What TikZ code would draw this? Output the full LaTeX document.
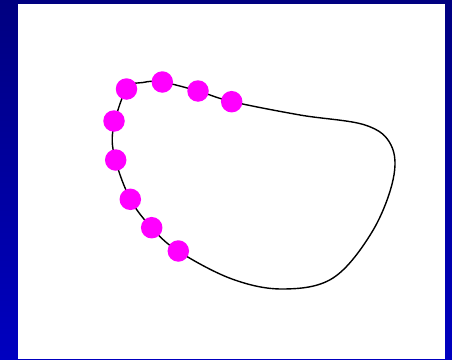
\documentclass[tikz,border=0pt]{standalone}
\begin{document}
\begin{tikzpicture}[x=1pt,y=-1pt,
  dot/.style={circle,fill=magentadot,inner sep=0pt,minimum size=21.5pt}]
\definecolor{navytop}{HTML}{000080}
\definecolor{bluebot}{HTML}{0000C0}
\definecolor{magentadot}{HTML}{FF00FF}
\useasboundingbox (0,0) rectangle (452,359);
\shade[top color=navytop,bottom color=bluebot] (0,0) rectangle (452,359);
\fill[white] (17.5,3.5) rectangle (445.3,359);
\draw[line width=1.4pt] plot[smooth cycle,tension=0.6] coordinates {
  (143,82.5) (162,82) (198,91) (231.5,101.5) (300,115)
  (365,125) (391,145) (393,180) (372,232)
  (333,278) (283,289) (232,279) (178,251)
  (151.5,227.5) (130.5,199.5) (115.5,160) (113,130) (126.5,89)};
\node[dot] (d1) at (126.5,89) {};
\node[dot] (d2) at (162.3,82) {};
\node[dot] (d3) at (198,91) {};
\node[dot] (d4) at (231.7,101.7) {};
\node[dot] (d5) at (114,121) {};
\node[dot] (d6) at (115.7,160) {};
\node[dot] (d7) at (130.3,199.3) {};
\node[dot] (d8) at (151.7,227.7) {};
\node[dot] (d9) at (178.3,251) {};
\end{tikzpicture}
\end{document}
